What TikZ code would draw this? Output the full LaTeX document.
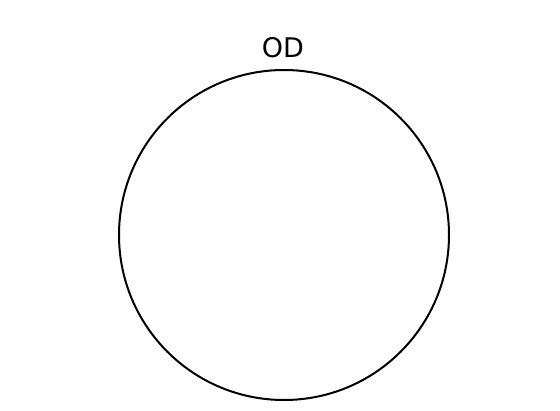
\documentclass[tikz,border=0pt]{standalone}
\usepackage{fontspec}
\setmainfont{DejaVu Sans}
\begin{document}
\begin{tikzpicture}[x=1pt,y=-1pt,
  ring/.style={draw=black,line width=2pt},
  lbl/.style={font=\fontsize{27}{31}\selectfont,inner sep=0pt,anchor=base}]
\useasboundingbox[fill=white] (0,0) rectangle (560,410);
\node[ring,circle,minimum size=330pt,inner sep=0pt] (c) at (284,235) {};
\node[lbl] (t) at (283,57) {OD};
\end{tikzpicture}
\end{document}
